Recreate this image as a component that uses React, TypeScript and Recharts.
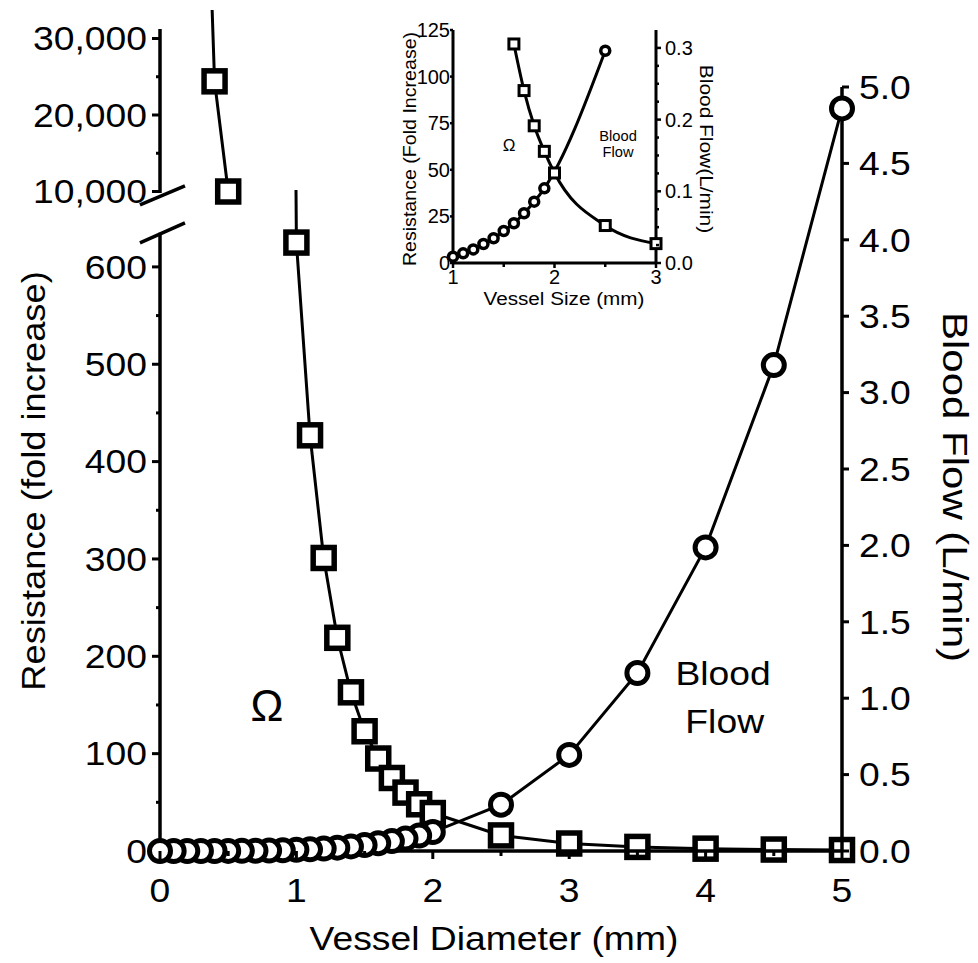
import React from 'react';
import { LineChart, Line, XAxis, YAxis, ReferenceLine, ReferenceDot } from 'recharts';

const FONT = '"Liberation Sans", Arial, Helvetica, sans-serif';
const W = 978;
const H = 963;

// ---------------- main chart data ----------------
const flowDiameter = [0, 0.1, 0.2, 0.3, 0.4, 0.5, 0.6, 0.7, 0.8, 0.9, 1.0, 1.1, 1.2, 1.3, 1.4, 1.5, 1.6, 1.7, 1.8, 1.9, 2.0, 2.5, 3.0, 3.5, 4.0, 4.5, 5.0];
const bloodFlow = [0, 0, 0, 0, 0, 0.0005, 0.001, 0.002, 0.003, 0.005, 0.008, 0.011, 0.016, 0.022, 0.03, 0.039, 0.051, 0.065, 0.081, 0.101, 0.124, 0.303, 0.629, 1.165, 1.987, 3.18, 4.86];

const resDiameter = [0.3, 0.4, 0.5, 1.0, 1.1, 1.2, 1.3, 1.4, 1.5, 1.6, 1.7, 1.8, 1.9, 2.0, 2.5, 3.0, 3.5, 4.0, 4.5, 5.0];
const resistance = [77000, 24400, 10000, 625, 427, 301, 219, 163, 123, 95, 75, 60, 48, 39, 16, 7.7, 4.2, 2.4, 1.5, 1.0];

const xTicks = [0, 0.5, 1, 1.5, 2, 2.5, 3, 3.5, 4, 4.5, 5];
const lowResTicks = [0, 50, 100, 150, 200, 250, 300, 350, 400, 450, 500, 550, 600];
const highResTicks = [10000, 15000, 20000, 25000, 30000];
const flowTicks = [0, 0.5, 1, 1.5, 2, 2.5, 3, 3.5, 4, 4.5, 5];

// ---------------- inset data ----------------
const insetFlowSize = [1.0, 1.1, 1.2, 1.3, 1.4, 1.5, 1.6, 1.7, 1.8, 1.9, 2.5];
const insetFlow = [0.0088, 0.0135, 0.019, 0.0265, 0.0345, 0.0446, 0.0554, 0.0694, 0.0855, 0.1042, 0.2961];
const insetResSize = [1.6, 1.7, 1.8, 1.9, 2.0, 2.5, 3.0];
const insetRes = [117.5, 92.5, 73.6, 59.9, 48.3, 20.1, 10.4];
const insetXTicks = [1, 1.5, 2, 2.5, 3];
const insetResTicks = [0, 25, 50, 75, 100, 125];
const insetFlowTicks = [0, 0.025, 0.05, 0.075, 0.1, 0.125, 0.15, 0.175, 0.2, 0.225, 0.25, 0.275, 0.3];

// ---------------- layout ----------------
const PL = 160;
const PR = 842;
const PB = 851;
const FLOW_TOP = 87;
const LOW_TOP = 190;
const LOW_DOMAIN: [number, number] = [0, 679];
const HIGH_TOP = 10;
const HIGH_BOTTOM = 193;
const HIGH_DOMAIN: [number, number] = [9804, 33725];

const IL = 453;
const IR = 656;
const IT = 30;
const IB = 263;

// ---------------- built tables ----------------
const flowData = flowDiameter.map((d, i) => ({ d, v: bloodFlow[i] }));
const flowMarkers = [...flowData].reverse();
const resData = resDiameter.map((d, i) => ({ d, v: resistance[i] }));
const lowResLine = resData.filter((p) => p.v <= 30000);
const lowResMarkers = resData.filter((p) => p.v <= LOW_DOMAIN[1]);
const highResLine = resData.filter((p) => p.v >= 9000);
const highResMarkers = resData.filter((p) => p.v >= HIGH_DOMAIN[0] && p.v <= HIGH_DOMAIN[1]);

const insetFlowData = insetFlowSize.map((d, i) => ({ d, v: insetFlow[i] }));
const insetResData = insetResSize.map((d, i) => ({ d, v: insetRes[i] }));

// ---------------- helpers ----------------
function SText({ x, y, angle = 0, sx = 1, anchor = 'middle', size, children }: any) {
  return (
    <text
      transform={`translate(${x},${y}) rotate(${angle}) scale(${sx},1)`}
      x={0}
      y={0}
      textAnchor={anchor}
      dominantBaseline="central"
      fontSize={size}
      fontFamily={FONT}
      fill="#000"
    >
      {children}
    </text>
  );
}

const isMult = (v: number, m: number) => Math.abs(v / m - Math.round(v / m)) < 1e-6;

function makeTick(o: {
  side: 'left' | 'right' | 'bottom';
  isMajor: (v: number) => boolean;
  fmt: (v: number) => string;
  major: number;
  minor: number;
  off: number;
  size: number;
  sx: number;
  sw: number;
}) {
  return function TickItem(props: any) {
    const { x, y, payload } = props;
    const v = payload.value;
    const mj = o.isMajor(v);
    const len = mj ? o.major : o.minor;
    if (o.side === 'left') {
      return (
        <g>
          <line x1={x - len} y1={y} x2={x} y2={y} stroke="#000" strokeWidth={o.sw} />
          {mj && (
            <SText x={x - o.off} y={y} anchor="end" size={o.size} sx={o.sx}>
              {o.fmt(v)}
            </SText>
          )}
        </g>
      );
    }
    if (o.side === 'right') {
      return (
        <g>
          <line x1={x} y1={y} x2={x + len} y2={y} stroke="#000" strokeWidth={o.sw} />
          {mj && (
            <SText x={x + o.off} y={y} anchor="start" size={o.size} sx={o.sx}>
              {o.fmt(v)}
            </SText>
          )}
        </g>
      );
    }
    return (
      <g>
        <line x1={x} y1={y} x2={x} y2={y + len} stroke="#000" strokeWidth={o.sw} />
        {mj && (
          <SText x={x} y={y + o.off} anchor="middle" size={o.size} sx={o.sx}>
            {o.fmt(v)}
          </SText>
        )}
      </g>
    );
  };
}

const MAIN_FS = 33;
const MAIN_SX = 1.13;

const mainXTick = makeTick({ side: 'bottom', isMajor: (v) => isMult(v, 1), fmt: (v) => String(v), major: 8, minor: 5, off: 39, size: MAIN_FS, sx: MAIN_SX, sw: 3 });
const lowResTick = makeTick({ side: 'left', isMajor: (v) => isMult(v, 100), fmt: (v) => String(v), major: 8, minor: 4, off: 13, size: MAIN_FS, sx: MAIN_SX, sw: 3 });
const highResTick = makeTick({ side: 'left', isMajor: (v) => isMult(v, 10000), fmt: (v) => v.toLocaleString('en-US'), major: 8, minor: 4, off: 13, size: MAIN_FS, sx: MAIN_SX, sw: 3 });
const flowTick = makeTick({ side: 'right', isMajor: () => true, fmt: (v) => v.toFixed(1), major: 7, minor: 7, off: 17, size: MAIN_FS, sx: MAIN_SX, sw: 3 });

const IN_FS = 20;
const IN_SX = 1.0;
const insetXTick = makeTick({ side: 'bottom', isMajor: (v) => isMult(v, 1), fmt: (v) => String(v), major: 5, minor: 4, off: 14, size: IN_FS, sx: IN_SX, sw: 2.5 });
const insetResTick = makeTick({ side: 'left', isMajor: () => true, fmt: (v) => String(v), major: 3, minor: 3, off: 3, size: IN_FS, sx: IN_SX, sw: 2.5 });
const insetFlowTick = makeTick({ side: 'right', isMajor: (v) => isMult(v, 0.1), fmt: (v) => v.toFixed(1), major: 5, minor: 3, off: 9, size: IN_FS, sx: IN_SX, sw: 2.5 });

function squareDot(size: number, sw: number) {
  return function SquareDot(p: any) {
    const key = `sq-${p.index}`;
    if (p.cx == null || p.cy == null || p.value == null) return <g key={key} />;
    return <rect key={key} x={p.cx - size / 2} y={p.cy - size / 2} width={size} height={size} fill="#fff" stroke="#000" strokeWidth={sw} />;
  };
}
function circleDot(r: number, sw: number) {
  return function CircleDot(p: any) {
    const key = `ci-${p.index}`;
    if (p.cx == null || p.cy == null || p.value == null) return <g key={key} />;
    return <circle key={key} cx={p.cx} cy={p.cy} r={r} fill="#fff" stroke="#000" strokeWidth={sw} />;
  };
}

const Title = ({ cfg }: any) => (
  <SText x={cfg.x} y={cfg.y} angle={cfg.angle || 0} size={cfg.size} sx={cfg.sx}>
    {cfg.text}
  </SText>
);

const textShape = (text: string, size: number, sx: number) =>
  function TextShape(p: any) {
    return (
      <SText x={p.cx} y={p.cy} size={size} sx={sx}>
        {text}
      </SText>
    );
  };

const layer: React.CSSProperties = { position: 'absolute', left: 0, top: 0, width: W, height: H };

export default function App() {
  return (
    <div style={{ position: 'absolute', left: 0, top: 0, width: W, height: H, background: '#fff' }}>
      {/* upper (broken) resistance section */}
      <div style={layer}>
        <LineChart width={W} height={H} margin={{ top: HIGH_TOP, right: W - PR, bottom: H - HIGH_BOTTOM, left: PL - 150 }}>
          <XAxis dataKey="d" type="number" domain={[0, 5]} hide />
          <YAxis
            yAxisId="clip"
            type="number"
            domain={HIGH_DOMAIN}
            allowDataOverflow
            width={150}
            ticks={highResTicks}
            interval={0}
            tick={highResTick}
            tickLine={false}
            tickSize={0}
            tickMargin={0}
            axisLine={false}
          />
          <YAxis yAxisId="mark" type="number" domain={HIGH_DOMAIN} hide />
          <ReferenceLine
            yAxisId="clip"
            segment={[{ x: 0, y: HIGH_DOMAIN[0] }, { x: 0, y: 31242 }]}
            stroke="#000"
            strokeWidth={3.5}
            ifOverflow="visible"
          />
          <Line yAxisId="clip" data={highResLine} dataKey="v" type="linear" stroke="#000" strokeWidth={3} dot={false} activeDot={false} isAnimationActive={false} />
          <Line yAxisId="mark" data={highResMarkers} dataKey="v" stroke="none" dot={squareDot(21, 5.5)} activeDot={false} isAnimationActive={false} />
        </LineChart>
      </div>

      {/* lower resistance section */}
      <div style={layer}>
        <LineChart width={W} height={H} margin={{ top: LOW_TOP, right: W - PR, bottom: H - PB, left: PL - 150 }}>
          <XAxis dataKey="d" type="number" domain={[0, 5]} hide />
          <YAxis
            yAxisId="clip"
            type="number"
            domain={LOW_DOMAIN}
            allowDataOverflow
            width={150}
            ticks={lowResTicks}
            interval={0}
            tick={lowResTick}
            tickLine={false}
            tickSize={0}
            tickMargin={0}
            axisLine={false}
            label={<Title cfg={{ x: 34, y: 481, angle: -90, size: 33, sx: 1.1, text: 'Resistance (fold increase)' }} />}
          />
          <YAxis yAxisId="mark" type="number" domain={LOW_DOMAIN} hide />
          <ReferenceLine yAxisId="clip" segment={[{ x: 0, y: 0 }, { x: 0, y: 635 }]} stroke="#000" strokeWidth={3.5} ifOverflow="visible" />
          <ReferenceLine yAxisId="clip" segment={[{ x: -0.147, y: 624.7 }, { x: 0.183, y: 645.2 }]} stroke="#000" strokeWidth={3.5} ifOverflow="visible" />
          <ReferenceLine yAxisId="clip" segment={[{ x: -0.147, y: 663.7 }, { x: 0.183, y: 683.2 }]} stroke="#000" strokeWidth={3.5} ifOverflow="visible" />
          <Line yAxisId="clip" data={lowResLine} dataKey="v" type="linear" stroke="#000" strokeWidth={3} dot={false} activeDot={false} isAnimationActive={false} />
          <Line yAxisId="mark" data={lowResMarkers} dataKey="v" stroke="none" dot={squareDot(21, 5.5)} activeDot={false} isAnimationActive={false} />
        </LineChart>
      </div>

      {/* blood flow + x axis + right axis */}
      <div style={layer}>
        <LineChart width={W} height={H} margin={{ top: FLOW_TOP, right: 0, bottom: 0, left: PL }}>
          <XAxis
            dataKey="d"
            type="number"
            domain={[0, 5]}
            height={H - PB}
            ticks={xTicks}
            interval={0}
            tick={mainXTick}
            tickLine={false}
            tickSize={0}
            tickMargin={0}
            axisLine={{ stroke: '#000', strokeWidth: 3.5 }}
            label={<Title cfg={{ x: 494, y: 938, size: 33, sx: 1.13, text: 'Vessel Diameter (mm)' }} />}
          />
          <YAxis
            yAxisId="flow"
            orientation="right"
            type="number"
            domain={[0, 5]}
            width={W - PR}
            ticks={flowTicks}
            interval={0}
            tick={flowTick}
            tickLine={false}
            tickSize={0}
            tickMargin={0}
            axisLine={{ stroke: '#000', strokeWidth: 3.5 }}
            label={<Title cfg={{ x: 955, y: 487, angle: 90, size: 35, sx: 1.2, text: 'Blood Flow (L/min)' }} />}
          />
          <ReferenceDot yAxisId="flow" x={0.784} y={0.955} r={1} ifOverflow="visible" shape={textShape('Ω', 44, 1.0)} />
          <ReferenceDot yAxisId="flow" x={4.128} y={1.165} r={1} ifOverflow="visible" shape={textShape('Blood', 33, 1.13)} />
          <ReferenceDot yAxisId="flow" x={4.14} y={0.851} r={1} ifOverflow="visible" shape={textShape('Flow', 33, 1.13)} />
          <Line yAxisId="flow" data={flowData} dataKey="v" type="linear" stroke="#000" strokeWidth={3} dot={false} activeDot={false} isAnimationActive={false} />
          <Line yAxisId="flow" data={flowMarkers} dataKey="v" stroke="none" dot={circleDot(10.5, 5)} activeDot={false} isAnimationActive={false} />
        </LineChart>
      </div>

      {/* inset */}
      <div style={layer}>
        <LineChart width={W} height={H} margin={{ top: IT, right: W - IR - 60, bottom: H - IB - 40, left: IL - 50 }}>
          <XAxis
            dataKey="d"
            type="number"
            domain={[1, 3]}
            height={40}
            ticks={insetXTicks}
            interval={0}
            tick={insetXTick}
            tickLine={false}
            tickSize={0}
            tickMargin={0}
            axisLine={{ stroke: '#000', strokeWidth: 3 }}
            label={<Title cfg={{ x: 564, y: 298, size: 19, sx: 1.09, text: 'Vessel Size (mm)' }} />}
          />
          <YAxis
            yAxisId="res"
            type="number"
            domain={[0, 125]}
            width={50}
            ticks={insetResTicks}
            interval={0}
            tick={insetResTick}
            tickLine={false}
            tickSize={0}
            tickMargin={0}
            axisLine={{ stroke: '#000', strokeWidth: 3 }}
            label={<Title cfg={{ x: 410, y: 149, angle: -90, size: 18, sx: 1.09, text: 'Resistance (Fold Increase)' }} />}
          />
          <YAxis
            yAxisId="flow"
            orientation="right"
            type="number"
            domain={[0, 0.325]}
            width={60}
            ticks={insetFlowTicks}
            interval={0}
            tick={insetFlowTick}
            tickLine={false}
            tickSize={0}
            tickMargin={0}
            axisLine={{ stroke: '#000', strokeWidth: 3 }}
            label={<Title cfg={{ x: 707, y: 149, angle: 90, size: 19, sx: 1.1, text: 'Blood Flow(L/min)' }} />}
          />
          <ReferenceDot yAxisId="res" x={1.552} y={63.3} r={1} ifOverflow="visible" shape={textShape('Ω', 17, 1.0)} />
          <ReferenceDot yAxisId="res" x={2.626} y={68.1} r={1} ifOverflow="visible" shape={textShape('Blood', 14, 1.05)} />
          <ReferenceDot yAxisId="res" x={2.626} y={59.5} r={1} ifOverflow="visible" shape={textShape('Flow', 14, 1.05)} />
          <Line yAxisId="res" data={insetResData} dataKey="v" type="monotone" stroke="#000" strokeWidth={3} dot={squareDot(10, 3)} activeDot={false} isAnimationActive={false} />
          <Line yAxisId="flow" data={insetFlowData} dataKey="v" type="monotone" stroke="#000" strokeWidth={3} dot={circleDot(4.5, 3.5)} activeDot={false} isAnimationActive={false} />
        </LineChart>
      </div>
    </div>
  );
}
